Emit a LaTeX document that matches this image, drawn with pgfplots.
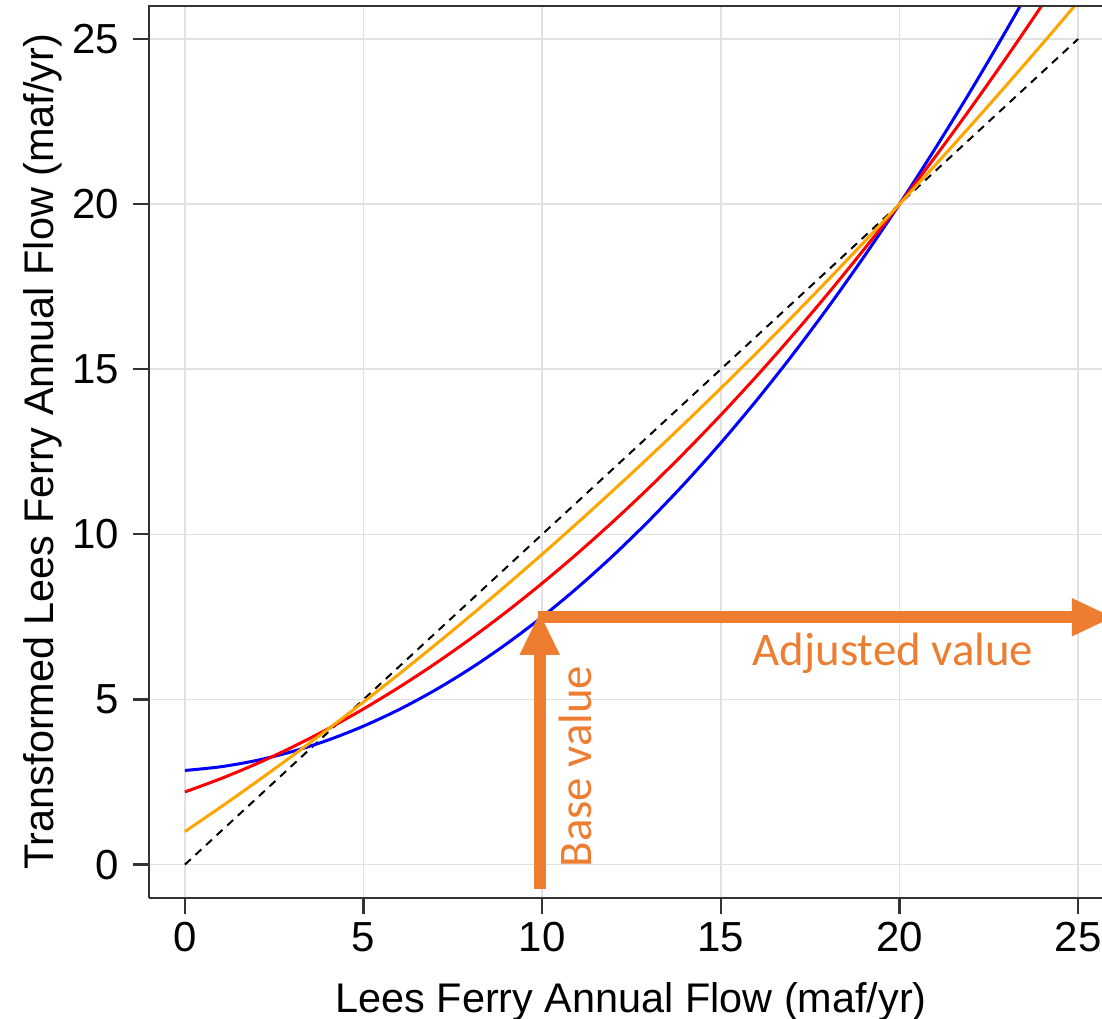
\documentclass[border=0pt]{standalone}
\usepackage{pgfplots}
\pgfplotsset{compat=1.18}
\usepackage{pgfplotstable}
\usepackage{fontspec}
\setmainfont{Liberation Sans}
\newfontfamily\calibri{Carlito}
\usetikzlibrary{arrows.meta}

\definecolor{gridgray}{RGB}{225,225,225}
\definecolor{axisgray}{RGB}{51,51,51}
\definecolor{curveorange}{RGB}{255,165,0}
\definecolor{noteorange}{RGB}{237,125,49}

% Transformation curves: base flow x -> transformed flow
\pgfplotstableread{
x   blue    red     orange
0   2.850   2.200   1.000
1   2.962   2.600   1.741
2   3.152   3.051   2.504
3   3.421   3.554   3.289
4   3.768   4.109   4.096
5   4.194   4.715   4.925
6   4.698   5.373   5.776
7   5.281   6.082   6.649
8   5.942   6.843   7.544
9   6.682   7.656   8.461
10  7.500   8.520   9.400
11  8.397   9.436   10.361
12  9.372   10.403  11.344
13  10.426  11.422  12.349
14  11.558  12.493  13.376
15  12.769  13.615  14.425
16  14.058  14.789  15.496
17  15.426  16.014  16.589
18  16.872  17.291  17.704
19  18.397  18.620  18.841
20  20.000  20.000  20.000
21  21.682  21.432  21.181
22  23.442  22.915  22.384
23  25.281  24.450  23.609
24  27.198  26.037  24.856
25  29.200  27.675  26.125
}\curves

\begin{document}
\begin{tikzpicture}
\begin{axis}[
  scale only axis,
  width=238.2pt, height=222.9pt,
  xmin=-1, xmax=25.67,
  ymin=-1, ymax=26,
  xtick={0,5,10,15,20,25},
  ytick={0,5,10,15,20,25},
  axis lines=left,
  axis line style={-, draw=axisgray, line width=0.55pt},
  tick align=outside,
  major tick length=4pt,
  every tick/.style={draw=axisgray, line width=0.55pt},
  grid=major,
  major grid style={draw=gridgray, line width=0.4pt},
  /pgf/number format/assume math mode=true,
  tick label style={font=\fontsize{10.5}{12}\selectfont, text=black},
  xticklabel style={anchor=north, yshift=1.3pt},
  yticklabel style={anchor=east, xshift=0pt},
  xlabel={Lees Ferry Annual Flow (maf/yr)},
  ylabel={Transformed Lees Ferry Annual Flow (maf/yr)},
  every axis x label/.style={at={(axis description cs:0.5058,0)}, anchor=base, yshift=-28.6pt,
    font=\fontsize{10.35}{12}\selectfont},
  every axis y label/.style={at={(axis description cs:0,0.5)}, xshift=-24pt, rotate=90, anchor=base,
    font=\fontsize{10.35}{12}\selectfont},
  clip=true,
]
\coordinate (bl) at (axis description cs:0,0);
\coordinate (tr) at (axis description cs:1,1);

% 1:1 reference line
\addplot[black, line width=0.5pt, dash pattern=on 2pt off 1.6pt] coordinates {(0,0) (25,25)};

\addplot[blue, line width=0.75pt, smooth] table[x=x, y=blue] {\curves};
\addplot[red, line width=0.75pt, smooth] table[x=x, y=red] {\curves};
\addplot[curveorange, line width=0.75pt, smooth] table[x=x, y=orange] {\curves};

% Annotation arrows: base value up to the curve, then across to the adjusted value
\addplot[noteorange, line width=3pt, -{Triangle[width=8.75pt,length=10.5pt]}]
  coordinates {(9.87,7.49) (26.0,7.49)};
\addplot[noteorange, line width=3pt, -{Triangle[width=9.25pt,length=10.7pt]}]
  coordinates {(9.93,-0.745) (9.93,7.645)};

\node[text=noteorange, font=\calibri\fontsize{11.7}{14}\selectfont, anchor=base west, inner sep=0pt]
  at (axis cs:15.87,6.04) {Adjusted value};
\node[text=noteorange, font=\calibri\fontsize{11.7}{14}\selectfont, anchor=base west, inner sep=0pt, rotate=90]
  at (axis cs:11.38,-0.11) {Base value};
\end{axis}
% top frame line of the plotting area
\draw[axisgray, line width=0.55pt] ([xshift=-0.275pt]bl |- tr) -- (tr);
\pgfresetboundingbox
\path ([shift={(-37.3pt,-30.1pt)}]bl) rectangle ([shift={(0pt,1.5pt)}]tr);
\end{tikzpicture}
\end{document}
